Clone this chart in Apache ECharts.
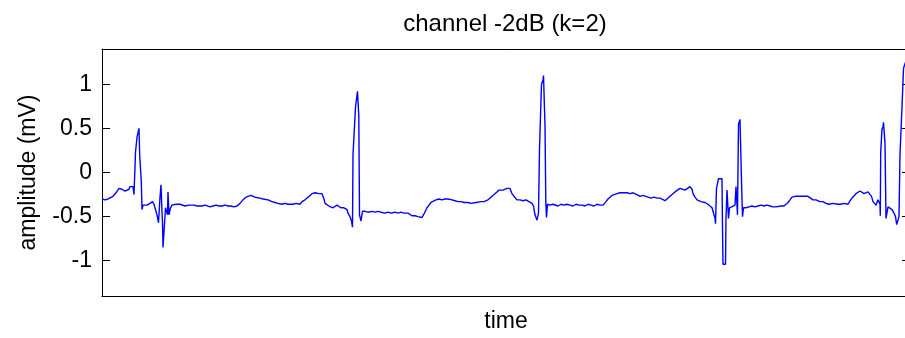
<!DOCTYPE html>
<html>
<head>
<meta charset="utf-8">
<script src="https://cdn.jsdelivr.net/npm/echarts@6/dist/echarts.min.js"></script>
<style>
  html, body { margin: 0; padding: 0; background: #fff; overflow: hidden; }
  #ecgChart { width: 905px; height: 338px; overflow: hidden; }
</style>
</head>
<body>
<div id="ecgChart"></div>
<script>
// ECG trace: [time (sample position), amplitude (mV)]
const ecgSamples = [
  [0, -0.30], [3, -0.31], [6, -0.30], [8, -0.30], [11, -0.27], [14, -0.23], [17, -0.18], [19, -0.17],
  [20, -0.19], [22, -0.19], [23, -0.21], [25, -0.19], [27, -0.19], [28, -0.16], [30, -0.15], [31, -0.16],
  [32, -0.25], [33.5, 0.23], [34.5, 0.25], [35, 0.40], [36.5, 0.42], [37, 0.50], [37.5, 0.50], [37.7, 0.19],
  [39, 0.19], [39.3, -0.10], [40, -0.42], [41, -0.37], [43, -0.36], [45, -0.37], [48, -0.35], [50.5, -0.33],
  [52, -0.36], [53, -0.40], [55, -0.48], [56.5, -0.57], [57, -0.57], [58, -0.28], [59, -0.14], [59.5, -0.14],
  [60, -0.45], [60.5, -0.57], [61, -0.85], [63, -0.87], [63.5, -0.40], [65, -0.40], [65.5, -0.48], [66, -0.22],
  [66.5, -0.22], [67, -0.48], [68.5, -0.40], [70, -0.37], [72, -0.38], [74, -0.36], [76, -0.37], [78, -0.36],
  [80, -0.37], [83, -0.38], [85, -0.36], [87, -0.37], [89, -0.38], [92, -0.37], [95, -0.38], [97, -0.36],
  [100, -0.38], [103, -0.37], [105, -0.37], [108, -0.39], [111, -0.38], [114, -0.37], [117, -0.38], [120, -0.38],
  [123, -0.37], [126, -0.38], [129, -0.38], [132, -0.39], [135, -0.38], [138, -0.35], [141, -0.31], [144, -0.28],
  [146, -0.27], [149, -0.26], [151, -0.27], [153, -0.28], [155, -0.27], [158, -0.29], [161, -0.30], [163, -0.29],
  [166, -0.31], [168, -0.32], [170, -0.33], [173, -0.34], [176, -0.35], [178, -0.34], [180, -0.36], [183, -0.35],
  [186, -0.36], [188, -0.35], [191, -0.36], [194, -0.35], [196, -0.36], [198, -0.36], [200, -0.33], [203, -0.31],
  [206, -0.28], [208, -0.26], [210, -0.24], [211, -0.22], [213, -0.23], [215, -0.22], [217, -0.24], [219, -0.23],
  [220, -0.24], [222, -0.30], [223, -0.35], [225, -0.36], [227, -0.38], [229, -0.39], [231, -0.40], [233, -0.38],
  [235, -0.37], [237, -0.39], [239, -0.40], [240, -0.42], [242, -0.40], [243, -0.39], [245, -0.42], [246, -0.46],
  [248, -0.50], [249.5, -0.55], [250.5, -0.62], [251, 0.20], [253, 0.20], [253.5, 0.74], [255, 0.74], [255.5, 0.92],
  [256.5, 0.92], [256.8, 0.64], [257.3, 0.64], [257.5, -0.48], [259, -0.55], [259.5, -0.55], [260.5, -0.44], [263, -0.44],
  [266, -0.45], [268, -0.44], [270, -0.44], [273, -0.45], [276, -0.44], [279, -0.45], [283, -0.46], [286, -0.45],
  [289, -0.46], [293, -0.45], [296, -0.46], [299, -0.45], [302, -0.46], [306, -0.46], [308, -0.48], [310, -0.49],
  [313, -0.49], [316, -0.50], [320, -0.51], [322, -0.47], [325, -0.40], [327, -0.37], [329, -0.34], [331, -0.32],
  [334, -0.31], [337, -0.30], [340, -0.31], [343, -0.30], [346, -0.30], [350, -0.31], [353, -0.32], [356, -0.33],
  [359, -0.33], [362, -0.34], [364, -0.33], [366, -0.34], [369, -0.35], [371, -0.34], [374, -0.34], [376, -0.34],
  [379, -0.33], [382, -0.33], [386, -0.31], [389, -0.28], [391, -0.26], [393, -0.24], [395, -0.22], [397, -0.20],
  [398, -0.19], [401, -0.20], [403, -0.19], [405, -0.18], [407, -0.16], [408, -0.18], [410, -0.24], [412, -0.27],
  [415, -0.31], [418, -0.31], [421, -0.32], [424, -0.31], [427, -0.33], [430, -0.35], [431.5, -0.38], [433, -0.48],
  [435, -0.54], [436.5, -0.46], [437.5, 0.27], [439, 0.27], [439.5, 1.00], [441, 1.05], [441.5, 1.10], [442.5, 1.10],
  [443, 0.53], [443.5, 0.53], [443.8, -0.33], [444.5, -0.51], [445, -0.51], [445.5, -0.36], [448, -0.37], [451, -0.36],
  [453, -0.37], [456, -0.38], [459, -0.36], [462, -0.37], [465, -0.36], [468, -0.37], [471, -0.38], [474, -0.36],
  [477, -0.37], [480, -0.37], [483, -0.38], [486, -0.36], [489, -0.37], [492, -0.38], [495, -0.36], [498, -0.37],
  [501, -0.37], [504, -0.33], [506, -0.30], [508, -0.28], [510, -0.26], [512, -0.25], [515, -0.24], [518, -0.23],
  [521, -0.23], [525, -0.23], [528, -0.24], [531, -0.23], [533, -0.25], [535, -0.25], [538, -0.27], [541, -0.26],
  [543, -0.28], [546, -0.28], [549, -0.29], [552, -0.28], [555, -0.29], [558, -0.29], [560, -0.30], [563, -0.32],
  [565, -0.31], [568, -0.27], [570, -0.25], [573, -0.22], [575, -0.21], [578, -0.18], [580, -0.19], [583, -0.20],
  [585, -0.18], [588, -0.16], [590, -0.19], [591, -0.24], [593, -0.28], [595, -0.31], [597, -0.31], [599, -0.33],
  [601, -0.35], [603, -0.34], [606, -0.36], [608, -0.37], [610, -0.40], [611, -0.44], [613, -0.52], [613.5, -0.58],
  [614, -0.58], [614.5, -0.18], [616, -0.18], [616.5, -0.07], [620, -0.07], [620.5, -0.63], [621, -1.04], [623.5, -1.04],
  [624, -0.52], [625, -0.20], [626, -0.20], [626.5, -0.52], [627.5, -0.40], [629.7, -0.39], [631, -0.40], [633, -0.37],
  [634, -0.16], [635, -0.16], [635.5, -0.48], [636.5, 0.55], [637.5, 0.55], [638, 0.60], [639, 0.60], [639.5, -0.10],
  [640, -0.10], [640.5, -0.50], [641.5, -0.40], [644, -0.40], [647, -0.39], [650, -0.38], [653, -0.39], [656, -0.38],
  [659, -0.37], [662, -0.38], [665, -0.37], [668, -0.38], [671, -0.39], [674, -0.39], [676, -0.40], [679, -0.38],
  [682, -0.38], [684, -0.36], [686, -0.34], [688, -0.31], [690, -0.28], [693, -0.27], [696, -0.27], [700, -0.27],
  [703, -0.27], [706, -0.27], [708, -0.29], [711, -0.31], [714, -0.31], [716, -0.32], [718, -0.33], [721, -0.33],
  [724, -0.35], [727, -0.36], [729, -0.37], [731, -0.35], [733, -0.35], [736, -0.36], [739, -0.36], [742, -0.35],
  [744, -0.36], [746, -0.36], [748, -0.32], [750, -0.29], [752, -0.27], [754, -0.24], [756, -0.22], [758, -0.21],
  [760, -0.23], [762, -0.24], [764, -0.23], [766, -0.22], [768, -0.21], [769.5, -0.27], [771, -0.33], [774, -0.37],
  [776, -0.31], [778, -0.36], [778.3, -0.49], [778.7, 0.23], [779.5, 0.23], [780, 0.49], [781, 0.52], [781.5, 0.57],
  [782.5, 0.57], [783, 0.33], [783.5, 0.33], [784, -0.52], [785, -0.52], [786, -0.39], [788, -0.39], [790, -0.42],
  [792, -0.46], [793.5, -0.50], [794.7, -0.59], [796.5, -0.59], [797, -0.50], [798, 0.21], [799.3, 0.21], [800, 0.74],
  [801, 0.74], [801.5, 1.18], [803.5, 1.25]
]

const timeRange = [0, 808]
const ampRange = [-1.4, 1.4]
const yTicks = [-1, -0.5, 0, 0.5, 1]

function drawChart() {
  // canvas a little wider than the window: the right side of the box falls just outside, as in the original figure
  let chart = echarts.init(document.getElementById('ecgChart'), null, { width: 910, height: 338 })
  let font = '"Liberation Sans", Arial, sans-serif'

  // box lines shared by all four axes
  let boxLine = { show: true, onZero: false, lineStyle: { color: '#000', width: 1 } }
  // MATLAB style ticks pointing into the box
  let inTicks = {
    show: true,
    inside: false,
    length: -8,
    customValues: yTicks,
    lineStyle: { color: '#000' },
  }

  let option = {
    animation: false,
    backgroundColor: '#fff',
    grid: {
      left: 102,
      right: 0,
      top: 49,
      bottom: 39.5,
    },
    graphic: [
      {
        type: 'text',
        x: 505,
        y: 24,
        style: {
          text: 'channel -2dB (k=2)',
          fontFamily: font,
          fontSize: 24,
          fill: '#000',
          textAlign: 'center',
          textVerticalAlign: 'middle',
        },
      },
    ],
    xAxis: [
      {
        type: 'value',
        min: timeRange[0],
        max: timeRange[1],
        name: 'time',
        nameLocation: 'middle',
        nameGap: 14,
        nameTextStyle: { fontFamily: font, fontSize: 23, color: '#000' },
        axisLine: boxLine,
        axisTick: { show: false },
        axisLabel: { show: false },
        splitLine: { show: false },
      },
      {
        type: 'value',
        position: 'top',
        min: timeRange[0],
        max: timeRange[1],
        axisLine: boxLine,
        axisTick: { show: false },
        axisLabel: { show: false },
        splitLine: { show: false },
      },
    ],
    yAxis: [
      {
        type: 'value',
        min: ampRange[0],
        max: ampRange[1],
        name: 'amplitude (mV)',
        nameLocation: 'middle',
        nameGap: 62,
        nameRotate: 90,
        nameTextStyle: { fontFamily: font, fontSize: 23, color: '#000' },
        axisLine: boxLine,
        axisTick: inTicks,
        axisLabel: {
          show: true,
          customValues: yTicks,
          margin: 10,
          fontFamily: font,
          fontSize: 23,
          color: '#000',
        },
        splitLine: { show: false },
      },
      {
        type: 'value',
        position: 'right',
        min: ampRange[0],
        max: ampRange[1],
        axisLine: boxLine,
        axisTick: inTicks,
        axisLabel: { show: false },
        splitLine: { show: false },
      },
    ],
    series: [
      {
        type: 'line',
        data: ecgSamples,
        showSymbol: false,
        lineStyle: { color: '#0000ff', width: 1.4 },
      },
    ],
  }
  chart.setOption(option)
}

drawChart()
</script>
</body>
</html>
